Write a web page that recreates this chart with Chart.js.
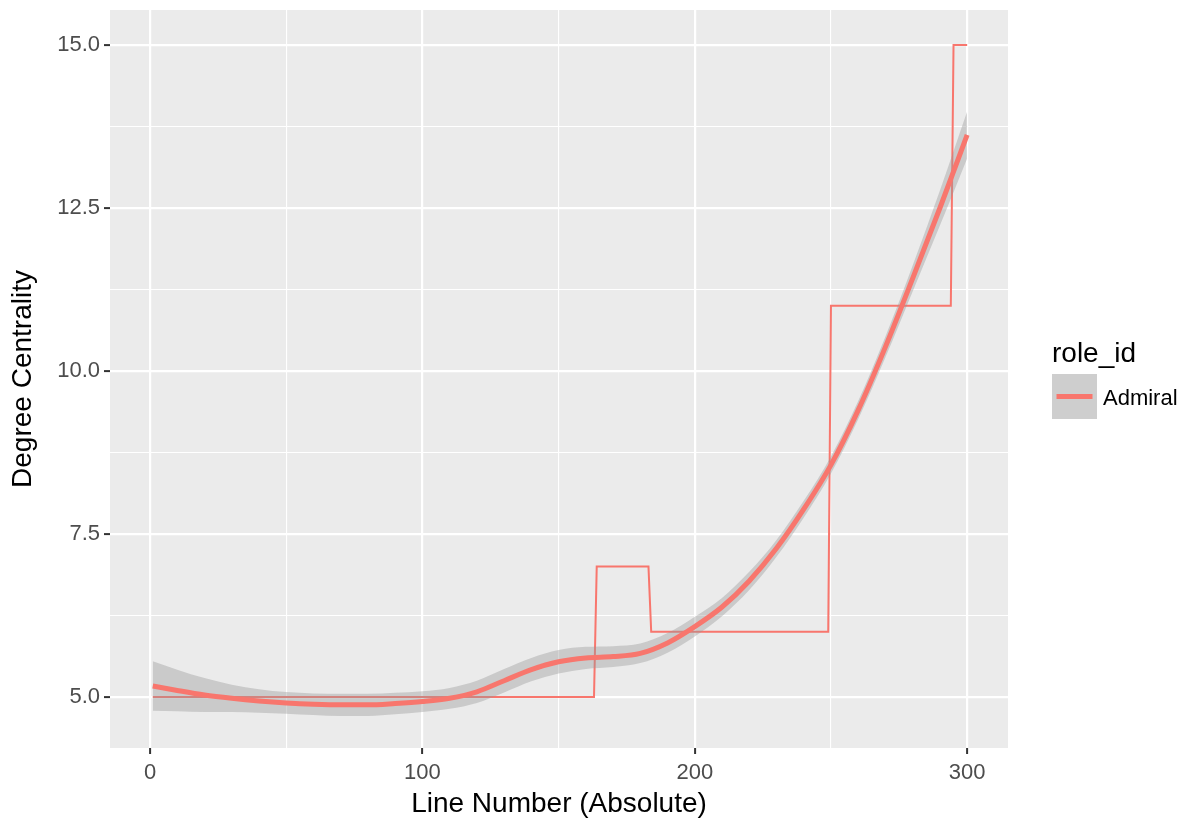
<!DOCTYPE html>
<html>
<head>
<meta charset="utf-8">
<script src="https://cdn.jsdelivr.net/npm/chart.js@4.4.1/dist/chart.umd.min.js"></script>
<style>
  html, body { margin: 0; padding: 0; background: #ffffff; }
  canvas { display: block; }
</style>
</head>
<body>
<canvas id="chart" width="1194" height="821" style="width:1194px;height:821px"></canvas>
<script>
// Degree centrality per line, Admiral
const stepX = [1, 163, 164, 183, 184, 249, 250, 294, 295, 300];
const stepY = [5, 5, 7, 7, 6, 6, 11, 11, 15, 15];

// Smoothed trend with its confidence band
const smoothX = [1, 10, 20, 30, 40, 50, 60, 70, 80, 90, 100, 110, 120, 130, 140, 150,
                 160, 170, 180, 190, 200, 210, 220, 230, 240, 250, 260, 270, 280, 290, 300];
const smoothFit = [5.17, 5.10, 5.03, 4.98, 4.94, 4.91, 4.89, 4.88, 4.88, 4.90, 4.93, 4.98, 5.08, 5.25, 5.42, 5.54,
                   5.60, 5.62, 5.67, 5.83, 6.08, 6.38, 6.78, 7.28, 7.88, 8.56, 9.40, 10.37, 11.42, 12.50, 13.62];
const bandUpper = [5.55, 5.42, 5.29, 5.19, 5.12, 5.075, 5.055, 5.05, 5.05, 5.065, 5.09, 5.14, 5.25, 5.43, 5.60, 5.72,
                   5.77, 5.78, 5.82, 5.98, 6.23, 6.52, 6.92, 7.41, 8.01, 8.69, 9.54, 10.53, 11.62, 12.77, 13.98];
const bandLower = [4.79, 4.78, 4.77, 4.77, 4.76, 4.745, 4.725, 4.71, 4.71, 4.735, 4.77, 4.82, 4.91, 5.07, 5.24, 5.36,
                   5.43, 5.46, 5.52, 5.68, 5.93, 6.24, 6.64, 7.15, 7.75, 8.43, 9.26, 10.21, 11.22, 12.23, 13.26];

// Axis breaks
const xMajorTicks = [0, 100, 200, 300];
const xMinorTicks = [50, 150, 250];
const yMajorTicks = [5, 7.5, 10, 12.5, 15];
const yMinorTicks = [6.25, 8.75, 11.25, 13.75];

const xTitle = 'Line Number (Absolute)';
const yTitle = 'Degree Centrality';
const legendTitle = 'role_id';
const seriesName = 'Admiral';

const FONT = '"Liberation Sans", Arial, Helvetica, sans-serif';
const LINE_COLOR = '#F8766D';
const BAND_COLOR = 'rgba(153,153,153,0.4)';

const toPoints = (xs, ys) => xs.map((x, i) => ({ x: x, y: ys[i] }));
const allTicks = (major, minor) => major.concat(minor).sort((a, b) => a - b).map(v => ({ value: v }));
const isMajor = (list, v) => list.some(m => Math.abs(m - v) < 1e-9);

const panelBackground = {
  id: 'panelBackground',
  beforeDraw(chart) {
    const { ctx, chartArea: a } = chart;
    ctx.save();
    ctx.fillStyle = '#EBEBEB';
    ctx.fillRect(a.left, a.top, a.right - a.left, a.bottom - a.top);
    ctx.restore();
  }
};

const sideLegend = {
  id: 'sideLegend',
  afterDraw(chart) {
    const ctx = chart.ctx;
    ctx.save();
    ctx.fillStyle = '#000000';
    ctx.textAlign = 'left';
    ctx.textBaseline = 'alphabetic';
    ctx.font = '28px ' + FONT;
    ctx.fillText(legendTitle, 1052, 362);
    // key
    ctx.fillStyle = '#F2F2F2';
    ctx.fillRect(1052, 374, 45, 45);
    ctx.fillStyle = BAND_COLOR;
    ctx.fillRect(1052, 374, 45, 45);
    ctx.strokeStyle = LINE_COLOR;
    ctx.lineWidth = 5;
    ctx.beginPath();
    ctx.moveTo(1056.5, 396.5);
    ctx.lineTo(1092.5, 396.5);
    ctx.stroke();
    ctx.fillStyle = '#000000';
    ctx.font = '22px ' + FONT;
    ctx.fillText(seriesName, 1103, 405);
    ctx.restore();
  }
};

new Chart(document.getElementById('chart'), {
  type: 'line',
  data: {
    datasets: [
      {
        label: seriesName + ' trend',
        data: toPoints(smoothX, smoothFit),
        borderColor: LINE_COLOR,
        borderWidth: 5,
        pointRadius: 0,
        fill: false,
        cubicInterpolationMode: 'monotone',
        order: 0
      },
      {
        label: 'upper',
        data: toPoints(smoothX, bandUpper),
        borderColor: 'rgba(0,0,0,0)',
        borderWidth: 0,
        backgroundColor: BAND_COLOR,
        pointRadius: 0,
        fill: '+1',
        cubicInterpolationMode: 'monotone',
        order: 1
      },
      {
        label: 'lower',
        data: toPoints(smoothX, bandLower),
        borderColor: 'rgba(0,0,0,0)',
        borderWidth: 0,
        pointRadius: 0,
        fill: false,
        cubicInterpolationMode: 'monotone',
        order: 2
      },
      {
        label: seriesName,
        data: toPoints(stepX, stepY),
        borderColor: LINE_COLOR,
        borderWidth: 2,
        pointRadius: 0,
        fill: false,
        tension: 0,
        order: 3
      }
    ]
  },
  options: {
    responsive: false,
    animation: false,
    devicePixelRatio: 1,
    layout: { padding: { left: 0, right: 186, top: 10, bottom: 0 } },
    plugins: {
      legend: { display: false },
      tooltip: { enabled: false }
    },
    scales: {
      x: {
        type: 'linear',
        min: -14.7,
        max: 315,
        afterBuildTicks: s => { s.ticks = allTicks(xMajorTicks, xMinorTicks); },
        afterFit: s => { s.height = 73; s.paddingLeft = 0; s.paddingRight = 0; },
        border: { display: false },
        grid: {
          color: '#FFFFFF',
          lineWidth: c => isMajor(xMajorTicks, c.tick.value) ? 2.2 : 1.1,
          drawTicks: true,
          tickLength: 6,
          tickWidth: 2,
          tickColor: c => isMajor(xMajorTicks, c.tick.value) ? '#333333' : 'rgba(0,0,0,0)'
        },
        ticks: {
          autoSkip: false,
          maxRotation: 0,
          padding: 6,
          color: '#4D4D4D',
          font: { family: FONT, size: 22 },
          callback: v => isMajor(xMajorTicks, v) ? String(v) : ''
        },
        title: {
          display: true,
          text: xTitle,
          color: '#000000',
          font: { family: FONT, size: 28 },
          padding: { top: 0, bottom: 0 }
        }
      },
      y: {
        type: 'linear',
        min: 4.218,
        max: 15.537,
        afterBuildTicks: s => { s.ticks = allTicks(yMajorTicks, yMinorTicks); },
        afterFit: s => { s.width = 110; s.paddingTop = 0; s.paddingBottom = 0; },
        border: { display: false },
        grid: {
          color: '#FFFFFF',
          lineWidth: c => isMajor(yMajorTicks, c.tick.value) ? 2.2 : 1.1,
          drawTicks: true,
          tickLength: 6,
          tickWidth: 2,
          tickColor: c => isMajor(yMajorTicks, c.tick.value) ? '#333333' : 'rgba(0,0,0,0)'
        },
        ticks: {
          autoSkip: false,
          padding: 4,
          color: '#4D4D4D',
          font: { family: FONT, size: 22 },
          callback: v => isMajor(yMajorTicks, v) ? v.toFixed(1) : ''
        },
        title: {
          display: true,
          text: yTitle,
          color: '#000000',
          font: { family: FONT, size: 28 },
          padding: { top: 6, bottom: 0 }
        }
      }
    }
  },
  plugins: [panelBackground, sideLegend]
});
</script>
</body>
</html>
